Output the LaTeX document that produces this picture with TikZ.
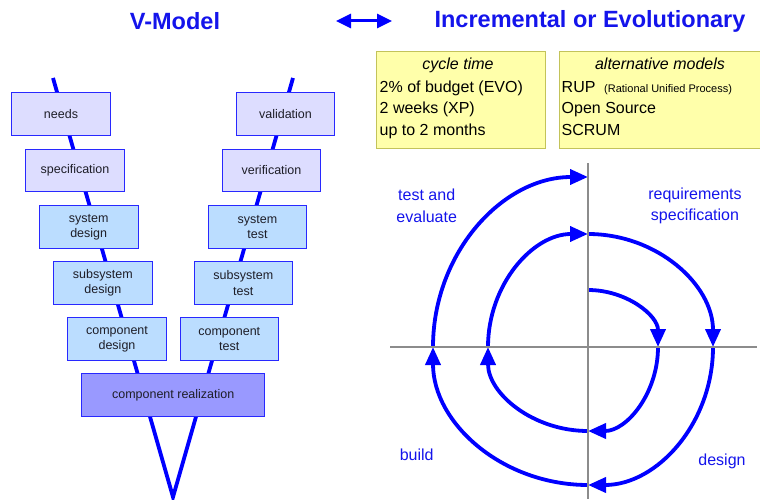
\documentclass[tikz,border=0pt]{standalone}
\usepackage{fontspec}
\setmainfont{Liberation Sans}
\usetikzlibrary{arrows.meta}
\definecolor{vblue}{RGB}{0,0,255}
\definecolor{txtblue}{RGB}{20,20,235}
\definecolor{lav}{RGB}{221,221,255}
\definecolor{lblue}{RGB}{187,221,255}
\definecolor{realz}{RGB}{153,153,255}
\definecolor{bordr}{RGB}{40,40,255}
\definecolor{yel}{RGB}{255,255,170}
\definecolor{yelb}{RGB}{195,195,90}
\definecolor{axisg}{RGB}{140,140,140}
\definecolor{boxtxt}{RGB}{30,30,40}
\begin{document}
\begin{tikzpicture}[x=1pt,y=1pt,
  vbox/.style={draw=bordr, line width=0.9pt, minimum width=98.5pt, minimum height=42.5pt,
    inner sep=0pt, align=center, text=boxtxt, font=\fontsize{12.5}{15.3}\selectfont},
  needbox/.style={vbox, fill=lav},
  levbox/.style={vbox, fill=lblue},
  realbox/.style={vbox, fill=realz, minimum width=183pt},
  notebox/.style={draw=yelb, line width=0.9pt, fill=yel, inner sep=0pt},
  notetxt/.style={inner sep=0pt, anchor=base west, text=black, font=\fontsize{16}{19}\selectfont},
  notehead/.style={inner sep=0pt, anchor=base, text=black, font=\fontsize{16}{19}\selectfont\itshape},
  vline/.style={draw=vblue, line width=3.8pt, line join=miter},
  spiral/.style={draw=vblue, line width=3.8pt, -{Triangle[length=18pt,width=15pt]}},
  axisline/.style={draw=axisg, line width=1.5pt},
  spirallbl/.style={text=txtblue, align=center, inner sep=0pt, font=\fontsize{16}{21.7}\selectfont},
  titletxt/.style={text=txtblue, inner sep=0pt, font=\fontsize{23.5}{26}\selectfont\bfseries}]
\useasboundingbox (0,0) rectangle (760,499);
\clip (0,0) rectangle (760,499);

% titles
\node[titletxt] (t1) at (175,478) {V-Model};
\node[titletxt] (t2) at (590,478) {Incremental or Evolutionary};
\coordinate (al) at (336,478);
\coordinate (ar) at (392,478);
\draw[draw=vblue, line width=3pt, {Triangle[length=15pt,width=14pt]}-{Triangle[length=15pt,width=14pt]}] (al) -- (ar);

% V line
\coordinate (vl) at (53,421);
\coordinate (vb) at (173,2);
\coordinate (vr) at (293,421);
\draw[vline] (vl) -- (vb) -- (vr);

% V-model boxes
\node[needbox] (needs) at (61,385) {needs};
\node[needbox] (spec) at (75,328.5) {specification};
\node[levbox] (sysd) at (88.7,272) {system\\design};
\node[levbox] (subd) at (102.8,216) {subsystem\\design};
\node[levbox] (compd) at (117,160) {component\\design};
\node[needbox] (valid) at (285.5,385) {validation};
\node[needbox] (verif) at (271.5,328.5) {verification};
\node[levbox] (syst) at (257.5,272) {system\\test};
\node[levbox] (subt) at (243.3,216) {subsystem\\test};
\node[levbox] (compt) at (229.3,160) {component\\test};
\node[realbox] (real) at (173.2,104) {component realization};

% note boxes
\node[notebox, minimum width=169pt, minimum height=97.3pt] (cyc) at (461.2,398.7) {};
\node[notebox, minimum width=212pt, minimum height=97.3pt] (alt) at (665.3,398.7) {};
\node[notehead] (cych) at (458,429.5) {cycle time};
\node[notetxt] (c1) at (379.5,406.6) {2\% of budget (EVO)};
\node[notetxt] (c2) at (379.5,385.3) {2 weeks (XP)};
\node[notetxt] (c3) at (379.5,363.3) {up to 2 months};
\node[notehead] (alth) at (660,429.5) {alternative models};
\node[notetxt] (a1) at (561.5,406.6) {RUP};
\node[notetxt, font=\fontsize{11}{13}\selectfont] (a1b) at (604,406.6) {(Rational Unified Process)};
\node[notetxt] (a2) at (561.5,385.3) {Open Source};
\node[notetxt] (a3) at (561.5,363.3) {SCRUM};

% spiral
\coordinate (c) at (588,152);
\draw[spiral] ([yshift=57pt]c) arc[start angle=90, end angle=0, x radius=70, y radius=57];
\draw[spiral] ([xshift=70pt]c) arc[start angle=0, end angle=-90, x radius=70, y radius=84];
\draw[spiral] ([yshift=-84pt]c) arc[start angle=-90, end angle=-180, x radius=100, y radius=84];
\draw[spiral] ([xshift=-100pt]c) arc[start angle=180, end angle=90, x radius=100, y radius=113];
\draw[spiral] ([yshift=113pt]c) arc[start angle=90, end angle=0, x radius=125, y radius=113];
\draw[spiral] ([xshift=125pt]c) arc[start angle=0, end angle=-90, x radius=125, y radius=138];
\draw[spiral] ([yshift=-138pt]c) arc[start angle=-90, end angle=-180, x radius=155, y radius=138];
\draw[spiral] ([xshift=-155pt]c) arc[start angle=180, end angle=90, x radius=155, y radius=170];

% axes
\coordinate (hx1) at (390,152);
\coordinate (hx2) at (757,152);
\coordinate (vy1) at (588,336);
\coordinate (vy2) at (588,0);
\draw[axisline] (hx1) -- (hx2);
\draw[axisline] (vy1) -- (vy2);

% spiral labels
\node[spirallbl] (te) at (426.7,293) {test and\\evaluate};
\node[spirallbl] (rs) at (695,293) {requirements\\specification};
\node[spirallbl] (bd) at (416.7,44) {build};
\node[spirallbl] (dg) at (722,37.3) {design};
\end{tikzpicture}
\end{document}
